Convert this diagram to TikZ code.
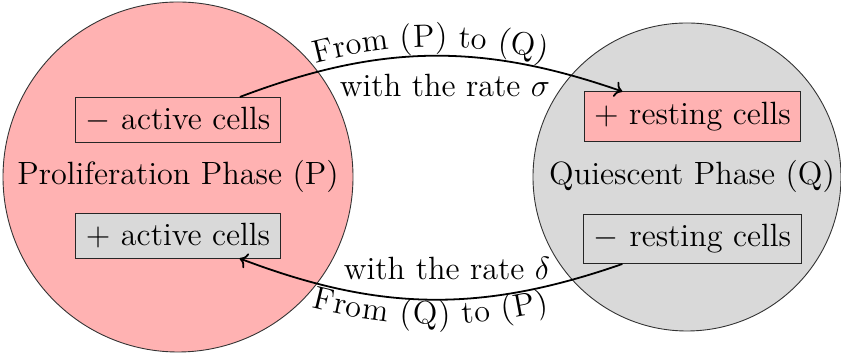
\documentclass[tikz,border=0pt]{standalone}
\usepackage{amsmath,amssymb}
\usepackage{tikz}
\usetikzlibrary{arrows.meta,positioning,calc,decorations.text}

\definecolor{phasepink}{RGB}{255,178,178}
\definecolor{phasegray}{RGB}{217,217,217}
\tikzset{
  cellbox/.style={draw=black!85, inner sep=4.5pt, font=\Large},
  phaselabel/.style={font=\Large},
  flow/.style={->, thick},
}

\begin{document}
\begin{tikzpicture}[x=0.447pt, y=-0.447pt]
\useasboundingbox (0,0) rectangle (841,355);
% The two phases
\draw[draw=black!80, fill=phasepink] (178,177) circle (175);
\draw[draw=black!80, fill=phasegray] (687,177) circle (154);
\node[phaselabel] (Plabel) at (178,176) {Proliferation Phase (P)};
\node[phaselabel] (Qlabel) at (692,176) {Quiescent Phase (Q)};
% Cell populations
\node[cellbox] (am) at (178,120) {$-$ active cells};
\node[cellbox, fill=phasegray] (ap) at (178,235.5) {$+$ active cells};
\node[cellbox, fill=phasepink] (rp) at (692.5,116.5) {$+$ resting cells};
\node[cellbox] (rm) at (692.5,239) {$-$ resting cells};
% Transitions between the phases
\draw[flow, postaction={decorate, decoration={text along path, text align=center,
  raise=4pt, text={|\Large|From (P) to (Q)}}}] (am) to[bend left=20] (rp);
\draw[flow] (rm) to[bend left=20] (ap);
\path[decorate, decoration={text along path, text align=center,
  raise=-11pt, text={|\Large|From (Q) to (P)}}] (ap) to[bend right=20] (rm);
% Rates
\node[font=\Large, anchor=base] (sigma) at (445,97) {with the rate $\sigma$};
\node[font=\Large, anchor=base] (delta) at (447,280) {with the rate $\delta$};
\end{tikzpicture}
\end{document}
